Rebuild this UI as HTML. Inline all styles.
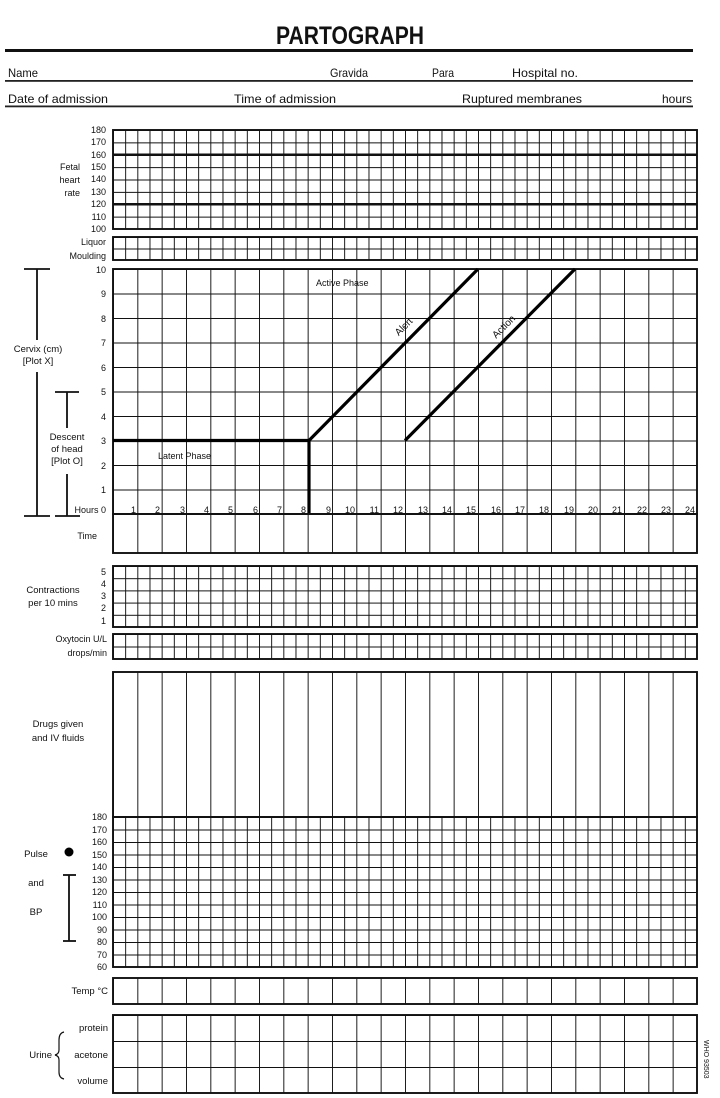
<!DOCTYPE html>
<html><head><meta charset="utf-8"><style>
html,body{margin:0;padding:0;background:#fff;width:720px;height:1098px;overflow:hidden}
svg{display:block}
text{font-family:"Liberation Sans Narrow","Liberation Sans",sans-serif;fill:#111}
</style></head><body>
<svg width="720" height="1098" viewBox="0 0 720 1098" xmlns="http://www.w3.org/2000/svg">
<defs>
<pattern id="fhr" patternUnits="userSpaceOnUse" x="113" y="130" width="12.1667" height="12.375"><path d="M0 0V12.375M0 0H12.1667" stroke="#111" stroke-width="1.9" fill="none"/></pattern>
<pattern id="liq" patternUnits="userSpaceOnUse" x="113" y="237" width="12.1667" height="11.5"><path d="M0 0V11.5M0 0H12.1667" stroke="#111" stroke-width="1.9" fill="none"/></pattern>
<pattern id="cx" patternUnits="userSpaceOnUse" x="113" y="269" width="24.333" height="24.5"><path d="M0 0V24.5M0 0H24.333" stroke="#111" stroke-width="1.9" fill="none"/></pattern>
<pattern id="col24a" patternUnits="userSpaceOnUse" x="113" y="0" width="24.333" height="1100"><path d="M0 0V1100" stroke="#111" stroke-width="1.9" fill="none"/></pattern>
<pattern id="con" patternUnits="userSpaceOnUse" x="113" y="566" width="12.1667" height="12.2"><path d="M0 0V12.2M0 0H12.1667" stroke="#111" stroke-width="1.9" fill="none"/></pattern>
<pattern id="oxy" patternUnits="userSpaceOnUse" x="113" y="634" width="12.1667" height="12.5"><path d="M0 0V12.5M0 0H12.1667" stroke="#111" stroke-width="1.9" fill="none"/></pattern>
<pattern id="pul" patternUnits="userSpaceOnUse" x="113" y="817" width="12.1667" height="12.5"><path d="M0 0V12.5M0 0H12.1667" stroke="#111" stroke-width="1.9" fill="none"/></pattern>
<pattern id="uri" patternUnits="userSpaceOnUse" x="113" y="1015" width="24.333" height="26"><path d="M0 0V26M0 0H24.333" stroke="#111" stroke-width="1.9" fill="none"/></pattern>
</defs>

<!-- Header -->
<text x="350" y="44" font-size="25" font-weight="bold" text-anchor="middle" textLength="148" lengthAdjust="spacingAndGlyphs">PARTOGRAPH</text>
<rect x="5" y="49" width="688" height="3" fill="#111"/>
<text x="8" y="77" font-size="12" textLength="30" lengthAdjust="spacingAndGlyphs">Name</text>
<text x="330" y="77" font-size="12" textLength="38" lengthAdjust="spacingAndGlyphs">Gravida</text>
<text x="432" y="77" font-size="12" textLength="22" lengthAdjust="spacingAndGlyphs">Para</text>
<text x="512" y="77" font-size="12" textLength="66" lengthAdjust="spacingAndGlyphs">Hospital no.</text>
<rect x="5" y="80" width="688" height="1.8" fill="#222"/>
<text x="8" y="103" font-size="12" textLength="100" lengthAdjust="spacingAndGlyphs">Date of admission</text>
<text x="234" y="103" font-size="12" textLength="102" lengthAdjust="spacingAndGlyphs">Time of admission</text>
<text x="462" y="103" font-size="12" textLength="120" lengthAdjust="spacingAndGlyphs">Ruptured membranes</text>
<text x="662" y="103" font-size="12" textLength="30" lengthAdjust="spacingAndGlyphs">hours</text>
<rect x="5" y="105.5" width="688" height="1.8" fill="#222"/>

<!-- FHR -->
<rect x="113" y="130" width="584" height="99" fill="url(#fhr)" stroke="#111" stroke-width="1.9"/>
<line x1="113" y1="154.75" x2="697" y2="154.75" stroke="#111" stroke-width="2.4"/>
<line x1="113" y1="204.25" x2="697" y2="204.25" stroke="#111" stroke-width="2.4"/>
<g font-size="9" text-anchor="end">
<text x="106" y="133">180</text><text x="106" y="145">170</text><text x="106" y="158">160</text><text x="106" y="170">150</text><text x="106" y="182">140</text><text x="106" y="195">130</text><text x="106" y="207">120</text><text x="106" y="220">110</text><text x="106" y="232">100</text>
<text x="80" y="170">Fetal</text><text x="80" y="183">heart</text><text x="80" y="196">rate</text>
<text x="106" y="245">Liquor</text><text x="106" y="259">Moulding</text>
</g>
<!-- Liquor -->
<rect x="113" y="237" width="584" height="23" fill="url(#liq)" stroke="#111" stroke-width="1.9"/>

<!-- Cervix -->
<rect x="113" y="269" width="584" height="245" fill="url(#cx)" stroke="#111" stroke-width="1.9"/>
<g font-size="9" text-anchor="end">
<text x="106" y="273">10</text><text x="106" y="297">9</text><text x="106" y="322">8</text><text x="106" y="346">7</text><text x="106" y="371">6</text><text x="106" y="395">5</text><text x="106" y="420">4</text><text x="106" y="444">3</text><text x="106" y="469">2</text><text x="106" y="493">1</text><text x="106" y="513">Hours 0</text>
</g>
<g font-size="9" text-anchor="end">
<text x="136" y="513">1</text><text x="160" y="513">2</text><text x="185" y="513">3</text><text x="209" y="513">4</text><text x="233" y="513">5</text><text x="258" y="513">6</text><text x="282" y="513">7</text><text x="306" y="513">8</text><text x="331" y="513">9</text><text x="355" y="513">10</text><text x="379" y="513">11</text><text x="403" y="513">12</text><text x="428" y="513">13</text><text x="452" y="513">14</text><text x="476" y="513">15</text><text x="501" y="513">16</text><text x="525" y="513">17</text><text x="549" y="513">18</text><text x="574" y="513">19</text><text x="598" y="513">20</text><text x="622" y="513">21</text><text x="647" y="513">22</text><text x="671" y="513">23</text><text x="695" y="513">24</text>
</g>
<path d="M113 440.5H309V514" stroke="#000" stroke-width="3.2" fill="none"/>
<line x1="309" y1="440.5" x2="478" y2="269" stroke="#000" stroke-width="3.2"/>
<line x1="405" y1="440.5" x2="575" y2="269" stroke="#000" stroke-width="3.2"/>
<text x="316" y="286" font-size="9">Active Phase</text>
<text x="158" y="459" font-size="9">Latent Phase</text>
<text x="406" y="329" font-size="10" text-anchor="middle" transform="rotate(-45 406 329)">Alert</text>
<text x="506" y="329" font-size="10" text-anchor="middle" transform="rotate(-45 506 329)">Action</text>
<!-- brackets -->
<g stroke="#111" stroke-width="1.8">
<line x1="24" y1="269" x2="50" y2="269"/><line x1="37" y1="269" x2="37" y2="340"/><line x1="37" y1="372" x2="37" y2="516"/><line x1="24" y1="516" x2="50" y2="516"/>
<line x1="55" y1="392" x2="79" y2="392"/><line x1="67" y1="392" x2="67" y2="428"/><line x1="67" y1="474" x2="67" y2="516"/><line x1="55" y1="516" x2="80" y2="516"/>
</g>
<g font-size="9.5" text-anchor="middle">
<text x="38" y="352">Cervix (cm)</text><text x="38" y="364">[Plot X]</text>
<text x="67" y="440">Descent</text><text x="67" y="452">of head</text><text x="67" y="464">[Plot O]</text>
</g>
<!-- Time -->
<rect x="113" y="514" width="584" height="39" fill="url(#col24a)" stroke="#111" stroke-width="1.9"/>
<text x="97" y="539" font-size="9" text-anchor="end">Time</text>

<!-- Contractions -->
<rect x="113" y="566" width="584" height="61" fill="url(#con)" stroke="#111" stroke-width="1.9"/>
<g font-size="9" text-anchor="end">
<text x="106" y="575">5</text><text x="106" y="587">4</text><text x="106" y="599">3</text><text x="106" y="611">2</text><text x="106" y="624">1</text>
<text x="107" y="642">Oxytocin U/L</text><text x="107" y="656">drops/min</text>
</g>
<g font-size="9.5" text-anchor="middle">
<text x="53" y="593">Contractions</text><text x="53" y="606">per 10 mins</text>
<text x="58" y="727">Drugs given</text><text x="58" y="741">and IV fluids</text>
</g>
<!-- Oxytocin -->
<rect x="113" y="634" width="584" height="25" fill="url(#oxy)" stroke="#111" stroke-width="1.9"/>
<!-- Drugs -->
<rect x="113" y="672" width="584" height="145" fill="url(#col24a)" stroke="#111" stroke-width="1.9"/>
<!-- Pulse -->
<rect x="113" y="817" width="584" height="150" fill="url(#pul)" stroke="#111" stroke-width="1.9"/>
<g font-size="9" text-anchor="end">
<text x="107" y="820">180</text><text x="107" y="833">170</text><text x="107" y="845">160</text><text x="107" y="858">150</text><text x="107" y="870">140</text><text x="107" y="883">130</text><text x="107" y="895">120</text><text x="107" y="908">110</text><text x="107" y="920">100</text><text x="107" y="933">90</text><text x="107" y="945">80</text><text x="107" y="958">70</text><text x="107" y="970">60</text>
</g>
<text x="36" y="857" font-size="9.5" text-anchor="middle">Pulse</text>
<circle cx="69" cy="852" r="4.5" fill="#000"/>
<text x="36" y="886" font-size="9.5" text-anchor="middle">and</text>
<text x="36" y="915" font-size="9.5" text-anchor="middle">BP</text>
<g stroke="#111" stroke-width="1.8"><line x1="63" y1="875" x2="76" y2="875"/><line x1="69" y1="875" x2="69" y2="941"/><line x1="63" y1="941" x2="76" y2="941"/></g>
<!-- Temp -->
<rect x="113" y="978" width="584" height="26" fill="url(#col24a)" stroke="#111" stroke-width="1.9"/>
<text x="108" y="994" font-size="9.5" text-anchor="end">Temp °C</text>
<!-- Urine -->
<rect x="113" y="1015" width="584" height="78" fill="url(#uri)" stroke="#111" stroke-width="1.9"/>
<g font-size="9.5" text-anchor="end">
<text x="108" y="1031">protein</text><text x="108" y="1058">acetone</text><text x="108" y="1084">volume</text>
<text x="52" y="1058">Urine</text>
</g>
<path d="M64 1032 Q59 1033 59 1040 V1050 Q59 1054 55 1055 Q59 1056 59 1060 V1072 Q59 1078 64 1079" stroke="#111" stroke-width="1.2" fill="none"/>
<text x="704" y="1040" font-size="7" transform="rotate(90 704 1040)">WHO 93503</text>
</svg>
</body></html>
